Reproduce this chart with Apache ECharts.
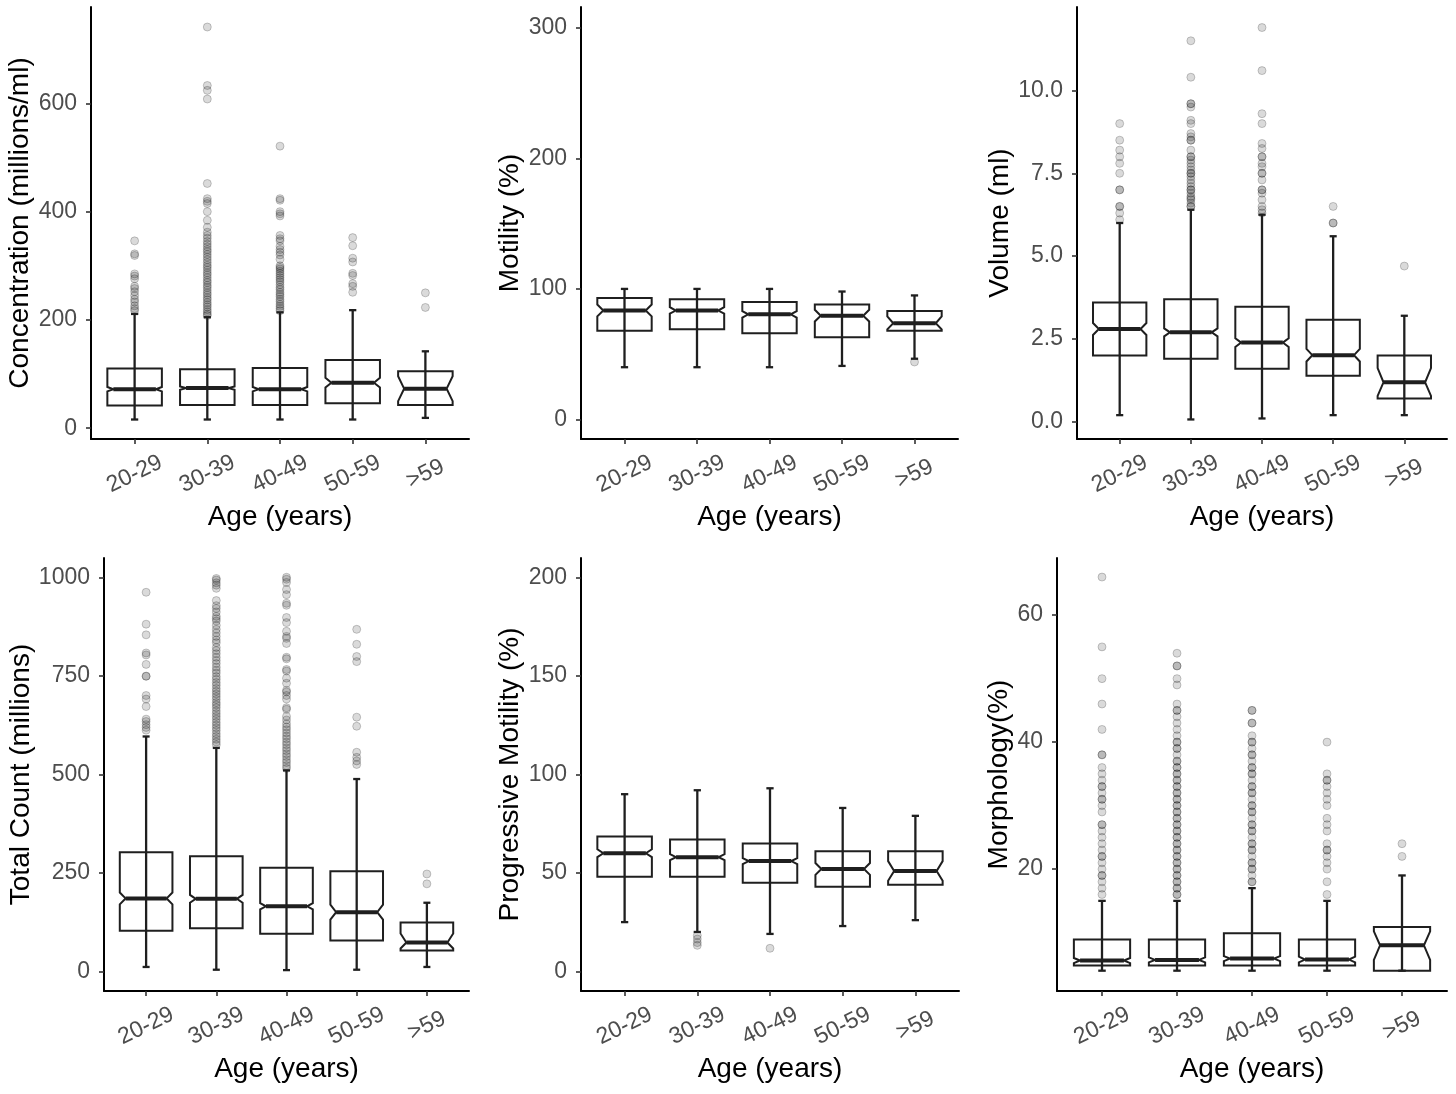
<!DOCTYPE html>
<html>
<head>
<meta charset="utf-8">
<script src="https://cdn.jsdelivr.net/npm/echarts/dist/echarts.min.js"></script>
<style>
  html, body { margin: 0; padding: 0; background: #fff; }
  #chart { width: 1456px; height: 1094px; }
</style>
</head>
<body>
<div id="chart"></div>
<script>
// age groups on every x axis
const ages = ["20-29", "30-39", "40-49", "50-59", ">59"];

// box rows: [whisker low, Q1, notch low, median, notch high, Q3, whisker high]
const concBoxes = [
  [16, 42, 68, 72, 76, 110, 211],
  [16, 43, 71, 74, 77, 109, 205],
  [16, 43, 68, 72, 76, 111, 214],
  [16, 46, 75, 84, 93, 126, 218],
  [19, 43, 50, 73, 96, 105, 142]
];
const concOutliers = [
  [346, 322, 319, 285, 281, 276, 262, 258, 252, 245, 238, 233, 226, 221, 217],
  [741, 633, 624, 608, 452, 424, 419, 415, 400, 384, 371, 362, 356, 351, 345, 340, 335, 330, 326, 321, 316, 311, 306, 301, 297, 292, 287, 283, 278, 273, 269, 264, 260, 255, 250, 246, 241, 237, 232, 228, 224, 219, 215, 211, 208],
  [521, 424, 421, 400, 396, 392, 356, 350, 346, 336, 330, 325, 320, 312, 300, 297, 294, 290, 286, 282, 278, 274, 270, 265, 260, 256, 251, 247, 243, 238, 234, 229, 225, 221, 217],
  [352, 337, 314, 307, 286, 282, 267, 262, 251],
  [250, 223]
];

const motBoxes = [
  [40, 68, 79, 83.4, 88, 93, 100],
  [40, 69, 81, 83.4, 86, 92, 100],
  [40, 66, 78, 80.5, 83, 90, 100],
  [41, 63, 75, 79.5, 84, 88, 98],
  [46.5, 68, 69, 73.7, 79, 83, 95]
];
const motOutliers = [[], [], [], [], [44]];

const volBoxes = [
  [0.2, 2.0, 2.62, 2.8, 2.98, 3.6, 6.0],
  [0.07, 1.9, 2.58, 2.7, 2.82, 3.7, 6.4],
  [0.1, 1.6, 2.26, 2.39, 2.52, 3.47, 6.25],
  [0.2, 1.39, 1.82, 2.01, 2.2, 3.08, 5.6],
  [0.2, 0.7, 0.78, 1.19, 1.62, 2.0, 3.2]
];
const volOutliers = [
  [9.0, 8.5, 8.2, 8.0, 7.8, 7.5, 7.0, 7.0, 6.5, 6.5, 6.3, 6.1],
  [11.5, 10.4, 9.6, 9.6, 9.5, 9.1, 9.0, 8.7, 8.6, 8.5, 8.5, 8.2, 8.0, 8.0, 7.9, 7.8, 7.7, 7.6, 7.5, 7.5, 7.4, 7.3, 7.2, 7.1, 7.0, 7.0, 6.9, 6.8, 6.75, 6.7, 6.6, 6.5, 6.5],
  [11.9, 10.6, 9.3, 9.0, 8.4, 8.25, 8.0, 8.0, 7.8, 7.7, 7.5, 7.5, 7.3, 7.0, 7.0, 6.9, 6.7, 6.5, 6.4, 6.3],
  [6.5, 6.0, 6.0],
  [4.7]
];

const countBoxes = [
  [11, 103, 170, 185, 200, 302, 596],
  [4, 109, 174, 184, 194, 292, 567],
  [3, 95, 157, 165, 173, 263, 510],
  [4, 78, 131, 150, 169, 254, 488],
  [11, 53, 58, 73, 96, 124, 174]
];
const countOutliers = [
  [962, 881, 854, 808, 803, 779, 749, 749, 700, 691, 672, 640, 634, 626, 619, 612],
  [997, 993, 986, 980, 972, 941, 928, 921, 912, 901, 895, 889, 878, 868, 859, 850, 841, 834, 822, 814, 806, 797, 789, 781, 772, 764, 757, 748, 741, 733, 726, 718, 711, 704, 697, 690, 682, 676, 669, 661, 654, 647, 640, 632, 625, 618, 611, 603, 596, 589, 582, 575],
  [1000, 995, 987, 969, 956, 934, 929, 898, 885, 863, 850, 845, 832, 797, 793, 766, 762, 744, 731, 713, 709, 700, 691, 669, 665, 647, 638, 628, 620, 613, 605, 597, 590, 582, 575, 567, 560, 552, 545, 537, 530, 522, 515],
  [868, 830, 799, 786, 645, 622, 556, 543, 534, 525],
  [247, 222]
];

const progBoxes = [
  [25, 48, 58, 60, 62, 68.5, 90],
  [20, 48, 56.5, 58, 59.5, 67, 92],
  [19, 45, 54.5, 56, 57.5, 65, 93],
  [23, 43, 49, 52, 55, 61, 83],
  [26, 44, 46, 51, 56, 61, 79]
];
const progOutliers = [[], [18.2, 16.4, 14.6, 13.2], [11.7], [], []];

const morphBoxes = [
  [4, 4.8, 5.2, 5.6, 6.0, 8.9, 15],
  [4, 4.8, 5.3, 5.7, 6.1, 8.9, 15],
  [4, 4.8, 5.5, 5.9, 6.3, 9.9, 17],
  [4, 4.8, 5.3, 5.75, 6.2, 8.9, 15],
  [4, 4, 5.7, 8, 10.2, 10.9, 19]
];
const morphOutliers = [
  [66, 55, 50, 46, 42, 38, 38, 36, 35, 34, 33, 33, 32, 31, 31, 30, 29, 27, 27, 26, 25, 24, 23, 22, 22, 21, 20, 19, 19, 18, 17, 16],
  [54, 52, 52, 50, 49, 46, 45, 45, 44, 43, 42, 41, 40, 40, 39, 39, 38, 37, 37, 36, 36, 35, 35, 34, 34, 33, 33, 32, 32, 31, 31, 30, 30, 29, 29, 28, 28, 27, 27, 26, 26, 25, 25, 24, 24, 23, 23, 22, 22, 21, 21, 20, 20, 19, 19, 18, 18, 17, 17, 16, 16],
  [45, 45, 43, 43, 41, 40, 40, 39, 38, 38, 37, 36, 36, 35, 35, 34, 33, 33, 32, 32, 31, 30, 30, 29, 29, 28, 27, 27, 26, 26, 25, 24, 24, 23, 23, 22, 21, 21, 20, 20, 19, 18, 18],
  [40, 35, 34, 34, 33, 32, 31, 30, 28, 27, 26, 24, 23, 23, 22, 21, 20, 18, 16],
  [24, 22]
];

const FONT = "'Liberation Sans', Arial, sans-serif";
const INK = "#1f1f1f";
const BOX_W = 0.75, NOTCH_W = 0.78, CAP_W = 0.1;

const panels = [
  { name: "Concentration (millions/ml)", boxes: concBoxes, outliers: concOutliers,
    min: -20, max: 778, ticks: [0, 200, 400, 600], gap: 55,
    grid: { left: 91, top: 7, width: 378, height: 432 } },
  { name: "Motility (%)", boxes: motBoxes, outliers: motOutliers,
    min: -15, max: 316, ticks: [0, 100, 200, 300], gap: 57,
    grid: { left: 581, top: 7, width: 377, height: 432 } },
  { name: "Volume (ml)", boxes: volBoxes, outliers: volOutliers,
    min: -0.52, max: 12.52, ticks: [0, 2.5, 5, 7.5, 10], gap: 63, fixed: 1,
    grid: { left: 1077, top: 7, width: 370, height: 432 } },
  { name: "Total Count (millions)", boxes: countBoxes, outliers: countOutliers,
    min: -50, max: 1049, ticks: [0, 250, 500, 750, 1000], gap: 68,
    grid: { left: 104, top: 558, width: 365, height: 433 } },
  { name: "Progressive Motility (%)", boxes: progBoxes, outliers: progOutliers,
    min: -10, max: 210, ticks: [0, 50, 100, 150, 200], gap: 57,
    grid: { left: 581, top: 558, width: 378, height: 433 } },
  { name: "Morphology(%)", boxes: morphBoxes, outliers: morphOutliers,
    min: 0.8, max: 69, ticks: [20, 40, 60], gap: 43,
    grid: { left: 1057, top: 558, width: 390, height: 433 } }
];

// notched box + errorbar, drawn from the axis scales
function renderBox(params, api) {
  const x = api.value(0);
  const lo = api.value(1), q1 = api.value(2), nlo = api.value(3), med = api.value(4),
    nhi = api.value(5), q3 = api.value(6), hi = api.value(7);
  const hw = BOX_W / 2, iw = hw * NOTCH_W, cw = CAP_W / 2;
  const p = (dx, v) => api.coord([x + dx, v]);
  const seg = (a, b, w) => ({
    type: "line",
    shape: { x1: a[0], y1: a[1], x2: b[0], y2: b[1] },
    style: { stroke: INK, lineWidth: w }
  });
  return {
    type: "group",
    children: [
      seg(p(0, lo), p(0, hi), 2.3),
      seg(p(-cw, lo), p(cw, lo), 2.3),
      seg(p(-cw, hi), p(cw, hi), 2.3),
      {
        type: "polygon",
        shape: {
          points: [p(-hw, q1), p(hw, q1), p(hw, nlo), p(iw, med), p(hw, nhi),
            p(hw, q3), p(-hw, q3), p(-hw, nhi), p(-iw, med), p(-hw, nlo)]
        },
        style: { fill: "none", stroke: INK, lineWidth: 2 }
      },
      seg(p(-iw, med), p(iw, med), 4)
    ]
  };
}

const grids = [], xAxes = [], yAxes = [], series = [];
panels.forEach((pn, k) => {
  grids.push(Object.assign({ containLabel: false }, pn.grid));
  xAxes.push({
    gridIndex: k, type: "value", min: 0.4, max: 5.6,
    name: "Age (years)", nameLocation: "middle", nameGap: 64,
    nameTextStyle: { fontSize: 28, color: "#000", fontFamily: FONT },
    axisLine: { show: true, onZero: false, lineStyle: { color: "#000", width: 2 } },
    axisTick: { show: true, length: 5, customValues: [1, 2, 3, 4, 5], lineStyle: { color: "#333", width: 1.6 } },
    axisLabel: {
      customValues: [1, 2, 3, 4, 5], formatter: v => ages[v - 1],
      rotate: 26, align: "center", verticalAlign: "middle", margin: 35,
      fontSize: 23, color: "#4d4d4d", fontFamily: FONT
    },
    splitLine: { show: false }
  });
  yAxes.push({
    gridIndex: k, type: "value", min: pn.min, max: pn.max,
    name: pn.name, nameLocation: "middle", nameGap: pn.gap,
    nameTextStyle: { fontSize: 28, color: "#000", fontFamily: FONT },
    axisLine: { show: true, onZero: false, lineStyle: { color: "#000", width: 2 } },
    axisTick: { show: true, length: 5, customValues: pn.ticks, lineStyle: { color: "#333", width: 1.6 } },
    axisLabel: {
      customValues: pn.ticks, margin: 14,
      formatter: v => pn.fixed ? v.toFixed(pn.fixed) : String(v),
      fontSize: 23, color: "#4d4d4d", fontFamily: FONT
    },
    splitLine: { show: false }
  });
  series.push({
    type: "scatter", xAxisIndex: k, yAxisIndex: k, z: 2,
    symbolSize: 8,
    itemStyle: { color: "rgba(0,0,0,0.18)", borderColor: "rgba(0,0,0,0.25)", borderWidth: 1 },
    data: pn.outliers.flatMap((vals, i) => vals.map(v => [i + 1, v]))
  });
  series.push({
    type: "custom", xAxisIndex: k, yAxisIndex: k, z: 3,
    renderItem: renderBox,
    encode: { x: 0, y: [1, 2, 3, 4, 5, 6, 7] },
    data: pn.boxes.map((b, i) => [i + 1].concat(b))
  });
});

const myChart = echarts.init(document.getElementById("chart"));
myChart.setOption({
  animation: false,
  backgroundColor: "#fff",
  grid: grids,
  xAxis: xAxes,
  yAxis: yAxes,
  series: series
});
</script>
</body>
</html>
